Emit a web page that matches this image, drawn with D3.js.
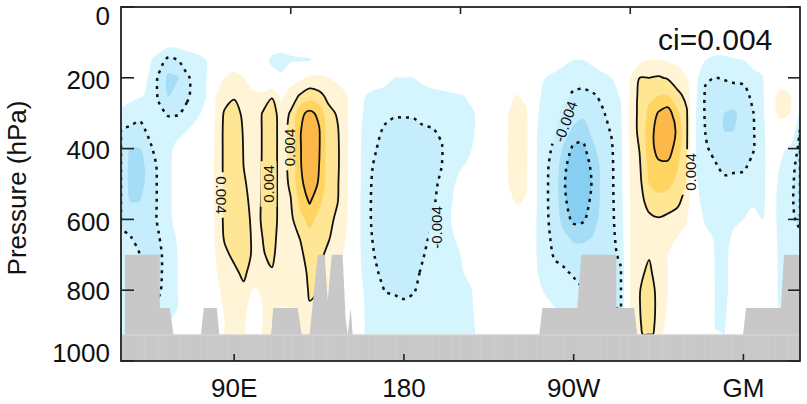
<!DOCTYPE html>
<html><head><meta charset="utf-8">
<script src="https://cdn.jsdelivr.net/npm/d3@7"></script>
<style>
body{margin:0;background:#fff}
svg{display:block}
text{font-family:"Liberation Sans",Arial,Helvetica,sans-serif;fill:#111}
</style>
</head><body>
<svg id="chart" width="807" height="404"></svg>
<script>
// ---- data (values in units of 0.001) ----
const lons = d3.range(30, 391, 5);                 // 30E ... 390 (=30E)
const levels = [100,150,200,250,300,350,400,450,500,550,600,650,700,750,800,850,900,925];
const c30 = [0,0,0,-0.5,-2.5,-4.1,-4.5,-4.6,-4.6,-4.5,-4.2,-3.8,-3.5,-3.3,-3,-3,-2.5,-2.5];
const field = [
 c30,
 [0,-0.3,-0.8,-1.5,-2.8,-4.5,-6,-6.5,-6.5,-6,-5,-3.9,-3.5,-3,-3,-3,-3,-3],
 [0,-0.5,-1.2,-1.8,-3.3,-4.8,-6,-6.5,-6.5,-6,-5.5,-5,-4,-4,-4,-4,-3.5,-3.5],
 [0,-1.7,-2.2,-2.3,-3,-3.5,-4.5,-5.5,-5.5,-5.5,-5,-5,-5,-4.5,-4.5,-4,-3.5,-3.5],
 [-0.5,-3,-4.3,-4.3,-3.5,-3,-3,-3.5,-3.6,-3.6,-3.7,-4.1,-4.5,-4.5,-4.3,-3.5,-2.5,-2.5],
 [-1,-4.5,-6.5,-6.2,-4.2,-3,-2.5,-2.5,-2.5,-2.5,-2.5,-2.8,-3,-3,-3,-2.5,-2,-2],
 [-1,-4,-6.2,-5,-4.2,-2.5,-1.5,-1.2,-1.2,-1.2,-1.3,-1.8,-2,-2,-2,-2,-1.5,-1],
 [-1,-3,-4.3,-4.3,-3.5,-2,-1,-0.5,-0.3,-0.3,-0.3,-0.5,-0.5,-0.5,-0.5,-0.5,-0.3,-0.3],
 [-1,-2.5,-3.2,-3.2,-2.6,-1,0,0,0,0,0,0,0,0,0,0,0,0],
 [-0.5,-2,-2.2,-2.1,-1.2,-0.3,0.5,0.8,1,1,1,1,1,0.8,0.5,0.3,0,0],
 [0,-1.5,0.8,1.9,2.1,2.2,2.2,2.2,2.2,2.2,2.1,2.1,2,1.8,1.5,1.2,1,1],
 [0,1,2,3,4.3,4.5,4.5,4.5,4.5,4.5,4.5,4.3,3.5,3,2.5,2.2,2,2],
 [0,1,2.5,3.7,5,5.5,5.8,5.8,5.8,5.5,5.5,5,4.5,3.5,3,2.5,2.3,2.3],
 [0,1,2,3,3.5,3.8,3.9,4,4.3,4.5,4.8,5,5,4.5,3.5,2.5,2.2,2.2],
 [0,0.5,1.5,2.2,2.5,2.8,2.8,3,3.2,3.5,3.6,3.7,3.7,3,1.8,1.2,1,1],
 [0,-1,-0.3,2.5,4.1,4.1,4.1,4.1,4.1,4.1,4.1,4,3.8,3,2.2,2,2,2],
 [-0.5,-2.5,-1,3.8,5,5,5,5,5,5,5,4.8,4.5,3.8,2.5,2.2,2,2],
 [-0.5,-3,-1.5,1.5,3,3.2,3.2,3.2,3.2,3.2,3.2,3,2.8,2.5,2.2,2,1.5,1.5],
 [-0.5,-2.5,1,3,4.2,4.5,4.5,4.5,4.3,3.9,3.5,3.2,3,2.5,2.3,2,1.5,1.5],
 [-0.5,-2.3,1.5,4.2,7.5,7.8,7.8,7.8,7.5,6.5,5.5,4.1,3.5,3,2.5,2.2,2,2],
 [-0.5,-2.2,2.5,5,8.5,10,10,9.5,9,8.2,6.5,5.5,5,4.5,4.3,3.8,3,2.5],
 [-0.3,-1,2.5,4.5,7.5,8.2,8.2,8,7.8,6.5,5.5,5,4.5,4,4,3.5,3,2.5],
 [0,0.5,2,3.5,4.5,5,5,5,5,4.8,4.6,4.2,3.5,3,3,3,2.5,2.5],
 [0,0.5,1.5,2.8,3.8,4.1,4.2,4.2,4.1,4,3.5,3,2.5,2,2,2,1.5,1.5],
 [0,0,1,2,2.2,2.3,2.3,2.3,2.2,2.1,2,1.8,1.5,1,0.5,0,0,0],
 [0,0,-0.3,-0.8,-1,-1,-1,-1,-1,-1,-1,-1,-1,-1,-0.8,-0.8,-0.8,-0.8],
 [0,0,-0.5,-2,-2.5,-3,-3.2,-3.3,-3.4,-3.5,-3.5,-3.5,-3.4,-3,-2.5,-2.3,-2.2,-2.2],
 [0,0,-1,-2.5,-3,-3.5,-3.9,-4.3,-4.5,-4.5,-4.5,-4.3,-4.1,-3.8,-3,-2.5,-2.2,-2.2],
 [0,0,-1.5,-2.5,-3.5,-4.3,-4.8,-5,-5,-5,-5,-5,-4.8,-4.5,-4.1,-3,-2.5,-2.5],
 [0,-0.5,-2,-3,-3.8,-4.6,-5.2,-5.5,-5.5,-5.5,-5.5,-5.3,-5,-4.7,-4.3,-3.2,-2.5,-2.5],
 [0,-0.5,-2,-3,-3.8,-4.6,-5.2,-5.5,-5.5,-5.5,-5.5,-5.3,-5,-4.7,-4.5,-3.5,-2.5,-2.5],
 [0,-0.5,-2,-3,-3.8,-4.5,-5,-5.2,-5.2,-5.2,-5,-5,-4.7,-4.4,-4.2,-3.2,-2.5,-2.5],
 [0,0,-1.5,-2.8,-3.6,-4.2,-4.7,-4.8,-4.8,-4.7,-4.5,-4.3,-4.1,-3.8,-3.3,-2.8,-2.5,-2.5],
 [0,0,-1.2,-2.5,-3.5,-4.1,-4.5,-4.5,-4.4,-4.3,-4.1,-3.8,-3.5,-3.2,-3,-2.6,-2.4,-2.4],
 [0,0,-1,-2.4,-3.2,-3.8,-4.1,-4,-3.7,-3.4,-3,-3,-2.8,-2.7,-2.7,-2.6,-2.5,-2.5],
 [0,0,-0.5,-2.3,-2.8,-3,-2.9,-2.6,-2.3,-2.1,-2,-2.1,-2.2,-2.3,-2.3,-2.3,-2.3,-2.3],
 [0,0,-0.3,-2.1,-2.5,-2.5,-2.3,-2.1,-1.6,-1.4,-1.5,-1.8,-2,-2.1,-2.2,-2.2,-2.2,-2.2],
 [0,0,0,-1.8,-2.2,-2.2,-2.1,-1.8,-1.3,-1,-1.1,-1.3,-1.6,-1.8,-2.1,-2.1,-2.1,-2.1],
 [0,0,0,-1.5,-1.8,-1.8,-1.6,-1,-0.6,-0.5,-0.5,-0.7,-1,-1.3,-1.6,-1.8,-1.9,-1.9],
 [0,0,0,-0.5,-0.5,-0.5,-0.3,0,0,0,0,0,-0.2,-0.4,-0.5,-0.6,-0.6,-0.6],
 [0,0,0,0,0.3,0.5,0.5,0.5,0.5,0.3,0,0,0,0,0,0,0,0],
 [0,0,0,1.5,1.9,2,2,2,1.9,1.5,0.5,0,0,0,0,0,0,0],
 [0,0,0.5,2.1,3,3.2,3.2,3,2.8,2.2,1,0.5,0,0,0,0,0,0],
 [0,0,0,1.5,2.3,2.5,2.5,2.3,2.2,1.8,1,0.3,0,0,0,0,0,0],
 [0,0,-0.5,-1.5,-1.6,-1.8,-1.8,-1.8,-1.8,-1.8,-1.9,-1.9,-1.9,-1.8,-1.5,-1,-0.5,-0.5],
 [0,-0.5,-2,-2.5,-3,-3.3,-3.5,-3.6,-3.6,-3.6,-3.6,-3.5,-3.3,-2.8,-2.2,-1.5,-1,-1],
 [0,-1,-2.5,-3,-3.5,-3.9,-4.3,-4.8,-5,-5,-4.8,-4.5,-4.2,-3.5,-3,-2,-1.5,-1.5],
 [0,-1.5,-3,-3.7,-4.2,-5,-6.5,-7.5,-7.8,-7.5,-7,-5.5,-4.5,-3.8,-3,-2.5,-2,-2],
 [-0.5,-2,-3.5,-4.2,-5,-6.5,-8.5,-9.5,-10,-9.5,-8.5,-6.5,-5,-4.2,-3.5,-3,-2.5,-2.5],
 [-0.5,-2,-3.5,-4.3,-5.5,-7,-8.5,-9.3,-9.5,-9,-8.3,-6.5,-5,-4,-4,-4,-4,-4],
 [0,-1.5,-3,-4.2,-4.8,-5.5,-6.5,-7.5,-7.8,-7.5,-7,-6,-5,-4.5,-4.5,-4.5,-4.5,-4.5],
 [0,-1,-2.5,-3.7,-4.2,-4.5,-5,-5.5,-5.5,-5.5,-5.3,-5,-4.7,-4.5,-4.5,-4.5,-4.5,-4.5],
 [0,-0.5,-2,-2.8,-3.5,-3.9,-4.2,-4.3,-4.3,-4.3,-4.3,-4.3,-4.3,-4.2,-4.2,-4,-3,-3],
 [0,0,-1,-1.8,-2.3,-2.5,-2.6,-2.7,-2.8,-3,-3.2,-3.5,-3.8,-4.1,-4.1,-4.1,-3,-3],
 [0,1,2,2.5,2.8,2.8,2.6,2.4,2.2,2.1,2.1,2.1,2.1,2.1,2.1,2.1,1.5,1.5],
 [0,1.5,4,4.5,4.5,4.5,4.1,3.8,3.5,3.2,3,3,3.3,3.5,3.9,3.9,3.7,3.5],
 [0,2,4,5.5,6.5,7,7,6.5,6,4.8,3.5,3,3.8,4.5,5.5,5.8,5.5,5],
 [0,2,4.2,6,8.2,9,8.8,7.5,6.5,5.5,3.8,2.5,2.5,2.8,3,3,2.8,2.5],
 [0,1.8,3.8,6,9,10,9,7.5,6.5,5,3.5,2.2,2,2,2,1.8,1.5,1.2],
 [0,1.5,3,4.5,6.5,7.5,7,6.2,5.5,4.5,3,2,1.8,1.5,1.2,1,0.8,0.5],
 [0,1,2,3.5,4.2,4.3,4.2,4.1,3.8,3,2.2,1.5,1,0.5,0,0,0,0],
 [0,-1,-1.5,-1.8,-2.1,-2.1,-2.1,-2.1,-1.8,-1.5,-1,-0.5,0,0,0,0,0,0],
 [0,-2,-3.8,-4.3,-4.3,-4.1,-3.8,-3.3,-3,-2.7,-2.3,-1.5,-1,-0.5,0,0,0,0],
 [-0.5,-2.5,-4,-5,-5.5,-5,-4.5,-3.8,-3.2,-2.8,-2.5,-2.2,-2.1,-2.1,-2.1,-2.1,-2.1,-1.8],
 [-0.5,-2.5,-3.8,-5.2,-6,-6,-5.3,-4.5,-3.5,-3,-2.6,-2.4,-2.3,-2.3,-2.3,-2.2,-2.1,-2],
 [-0.3,-2.2,-3.5,-5.2,-6.2,-6,-5.5,-4.3,-3.5,-2.8,-2.2,-1.8,-1.5,-1.5,-1.5,-1.3,-1,-1],
 [0,-2,-3.5,-4.8,-5.5,-5.3,-5,-4.3,-3.3,-2.5,-2,-1.5,-1.2,-1,-1,-1,-1,-1],
 [0,-1.5,-2.5,-3.5,-4.1,-4.2,-4.2,-3.5,-2.8,-2.2,-1.6,-1,-0.5,0,0,0,0,0],
 [0,-1,-2.2,-2.7,-2.8,-2.8,-2.7,-2.5,-2.3,-2.2,-2,-1.5,-1,-0.5,-0.5,-0.5,-0.5,-0.5],
 [0,0,0.5,1.5,1.5,0,-0.5,-1,-1.3,-1.5,-1.5,-1.5,-1.5,-1.5,-1.5,-1.5,-1.5,-1.5],
 [0,0,1,2.5,2.5,1,-1.5,-2.2,-2.5,-2.5,-2.5,-2.4,-2.3,-2.3,-2.3,-2.2,-2,-2],
 [0,0,0.5,2,2,0,-2.5,-3.5,-3.7,-3.8,-3.8,-3.5,-3,-3,-2.8,-2.7,-2.5,-2.5],
 c30
];
const shadeLevels = [2,4,6,8];
const posColors = ["#fff5d6","#ffe695","#ffd462","#fcb848"];
const negColors = ["#d4f5fd","#c5edfb","#a6ddf6","#86cff1"];
const lineLevels = [4,8];

// topography (surface pressure, hPa) along longitude
const topoLon = [30,32.1,32.1,50.6,50.6,55.9,57.8,72.4,73.9,80.8,82.1,109.6,110.7,123.7,125.8,130,134.3,138,139.6,141.7,147.5,149.1,150.2,151.8,152.8,251.8,253.4,271.9,274.1,292.6,292.6,302.1,303.7,359.8,361.4,379.9,381.5,390];
const topoP   = [925,925,700,700,850,850,925,925,850,850,925,925,850,850,925,925,700,700,830,700,700,880,925,850,925,925,850,850,700,700,850,850,925,925,850,850,700,700];

const pTicks = [0,200,400,600,800,1000];
const pTickLabelY = [15.5,80,150,222,290.5,352.5];
const xTickLons = [90,180,270,360];
const xTickLabels = ["90E","180","90W","GM"];
const topTickLons = [120,210,300];

const labels = [
  {t:"0.004", x:221.5, y:195, a:90},
  {t:"0.004", x:268.5, y:184, a:-90},
  {t:"0.004", x:289.5, y:147.5, a:-90},
  {t:"0.004", x:690, y:172, a:-90},
  {t:"-0.004", x:436.5, y:227.5, a:-90},
  {t:"-0.004", x:565.5, y:121.5, a:-70}
];

// ---- drawing ----
const L=121, R=800, T=7, B=361;
const svg = d3.select("#chart");
const x = d3.scaleLinear().domain([30,390]).range([L,R]);
const y = d3.scaleLinear().domain([0,1000]).range([T,B]);

const defs = svg.append("defs");
defs.append("clipPath").attr("id","plotclip").append("rect")
  .attr("x",L).attr("y",T).attr("width",R-L).attr("height",B-T);
const mask = defs.append("mask").attr("id","lblmask").attr("maskUnits","userSpaceOnUse")
  .attr("x",0).attr("y",0).attr("width",807).attr("height",404);
mask.append("rect").attr("width",807).attr("height",404).attr("fill","#fff");

const n = lons.length, m = levels.length;
const grid = new Array(n*m), ngrid = new Array(n*m);
for (let j=0;j<m;j++) for (let i=0;i<n;i++) { grid[j*n+i] = field[i][j]; ngrid[j*n+i] = -field[i][j]; }

function interp(arr, f) {
  const k = Math.max(0, Math.min(arr.length-1, f));
  const k0 = Math.floor(k), k1 = Math.min(arr.length-1, k0+1);
  return arr[k0] + (k-k0)*(arr[k1]-arr[k0]);
}
function toPx(pt) { return [x(interp(lons, pt[0]-0.5)), y(interp(levels, pt[1]-0.5))]; }
const ringLine = d3.line().curve(d3.curveCatmullRomClosed.alpha(0.5));
function pathOf(contour) {
  let d = "";
  for (const poly of contour.coordinates) for (const ring of poly) {
    let pts = ring.slice(0,-1).map(toPx);
    pts = pts.filter((p,i,a)=> i===0 || Math.hypot(p[0]-a[i-1][0], p[1]-a[i-1][1]) > 0.05);
    if (pts.length > 2) d += ringLine(pts);
  }
  return d;
}
const gen = d3.contours().size([n,m]).smooth(true).thresholds(shadeLevels);
const posC = gen(grid), negC = gen(ngrid);

const plot = svg.append("g").attr("clip-path","url(#plotclip)");
plot.append("rect").attr("x",L).attr("y",T).attr("width",R-L).attr("height",B-T).attr("fill","#fff");
posC.forEach((c,k)=> plot.append("path").attr("d",pathOf(c)).attr("fill",posColors[k]).attr("fill-rule","evenodd"));
negC.forEach((c,k)=> plot.append("path").attr("d",pathOf(c)).attr("fill",negColors[k]).attr("fill-rule","evenodd"));

const lines = plot.append("g").attr("mask","url(#lblmask)");
posC.filter(c=>lineLevels.includes(c.value)).forEach(c=>
  lines.append("path").attr("d",pathOf(c)).attr("fill","none").attr("stroke","#111").attr("stroke-width",1.8).attr("stroke-linejoin","round"));
negC.filter(c=>lineLevels.includes(c.value)).forEach(c=>
  lines.append("path").attr("d",pathOf(c)).attr("fill","none").attr("stroke","#111").attr("stroke-width",2.5).attr("stroke-dasharray","3,5"));

// labels on contours
labels.forEach(l=>{
  const t = plot.append("text").attr("transform",`translate(${l.x},${l.y}) rotate(${l.a})`)
    .attr("text-anchor","middle").attr("dominant-baseline","central").attr("font-size",15).text(l.t);
  const w = t.node().getComputedTextLength();
  mask.append("rect").attr("x",-w/2-4).attr("y",-8).attr("width",w+8).attr("height",16)
    .attr("transform",`translate(${l.x},${l.y}) rotate(${l.a})`).attr("fill","#000");
});

// topography
const topo = topoLon.map((lo,i)=>[lo, topoP[i]]);
plot.append("path").datum(topo)
  .attr("d", d3.area().x(d=>x(d[0])).y0(y(1000)).y1(d=>y(d[1])))
  .attr("fill","#c8c8c8");
const stripes = plot.append("g").attr("stroke","#d3d3d3").attr("stroke-width",0.8).attr("opacity",0.7);
d3.range(L+3, R, 7).forEach((sx,i)=>{
  if (i%3===1) return;
  stripes.append("line").attr("x1",sx).attr("x2",sx).attr("y1",y(925)).attr("y2",B);
});
plot.append("line").attr("x1",L).attr("x2",R).attr("y1",y(925)+0.5).attr("y2",y(925)+0.5)
  .attr("stroke","#dadada").attr("stroke-width",1);

// frame & ticks
const ax = svg.append("g").attr("stroke","#222").attr("stroke-width",1.6);
ax.append("rect").attr("x",L).attr("y",T).attr("width",R-L).attr("height",B-T).attr("fill","none").attr("stroke-width",1.8);
pTicks.forEach(p=>{
  ax.append("line").attr("x1",L).attr("x2",L+13).attr("y1",y(p)).attr("y2",y(p));
  ax.append("line").attr("x1",R-12).attr("x2",R).attr("y1",y(p)).attr("y2",y(p));
});
xTickLons.forEach(lo=> ax.append("line").attr("x1",x(lo)).attr("x2",x(lo)).attr("y1",B-7).attr("y2",B));
topTickLons.forEach(lo=> ax.append("line").attr("x1",x(lo)).attr("x2",x(lo)).attr("y1",T).attr("y2",T+7));

// tick labels
pTicks.forEach((p,i)=> svg.append("text").attr("x",110).attr("y",pTickLabelY[i]).attr("dy","0.36em")
  .attr("text-anchor","end").attr("font-size",26).text(p));
xTickLons.forEach((lo,i)=> svg.append("text").attr("x",x(lo)).attr("y",397)
  .attr("text-anchor","middle").attr("font-size",26).text(xTickLabels[i]));
svg.append("text").attr("transform","translate(26,188) rotate(-90)").attr("text-anchor","middle")
  .attr("font-size",26).text("Pressure (hPa)");
svg.append("text").attr("x",658).attr("y",50).attr("font-size",30).text("ci=0.004");
</script>
</body></html>
